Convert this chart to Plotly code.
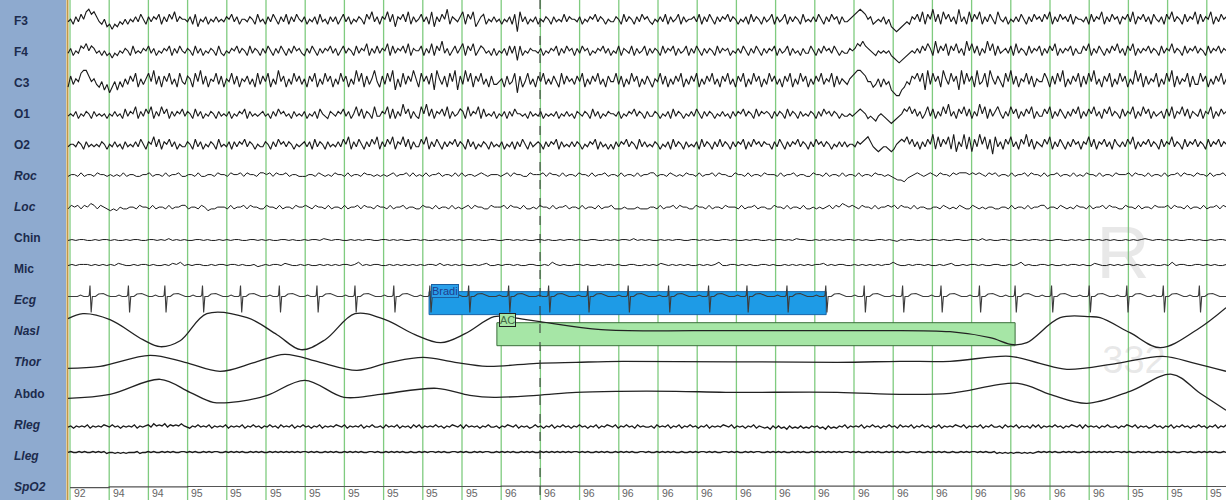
import plotly.graph_objects as go

# ---------------- data ----------------
channels = ["F3", "F4", "C3", "O1", "O2", "Roc", "Loc", "Chin", "Mic",
            "Ecg", "Nasl", "Thor", "Abdo", "Rleg", "Lleg", "SpO2"]
italic_channels = ["Roc", "Loc", "Ecg", "Nasl", "Thor", "Rleg", "Lleg", "SpO2"]

epoch_seconds = [0, 1, 2, 3, 4, 5, 6, 7, 8, 9, 10, 11, 12, 13, 14,
                 15, 16, 17, 18, 19, 20, 21, 22, 23, 24, 25, 26, 27, 28, 29]
spo2_values = [92, 94, 94, 95, 95, 95, 95, 95, 95, 95, 95,
               96, 96, 96, 96, 96, 96, 96, 96, 96, 96, 96, 96, 96, 96, 96, 96,
               95, 95, 95]

# scored events (seconds)
event_names = ["Bradi", "AC"]
event_start = [9.16, 10.89]
event_end = [19.29, 24.11]
event_channel = ["Ecg", "Nasl"]
cursor_time = 11.99

# EEG / EOG / EMG samples, one digit per sample (level 0-9, 4.5 = baseline)
f3_samples = ["453647589786435", "231324353546475", "364657364758465", "546372546354645",
              "465746355465374", "536475364736475", "463546374536463", "574635465375846",
              "365847265748364", "574638264759365", "468375824673546", "453546370846354",
              "635465364547465", "546354657465354", "465374653647564", "354647364573645",
              "564736475364657", "465354637465364", "573645736465374", "546475364756364",
              "456789875634546", "352101234365748", "375947385746394", "638475836475385",
              "463546475364756", "475836475647365", "546374658364756", "365748365746375",
              "463758465374658", "374658364756"]
f4_samples = ["463547685764535", "342435465374546", "574635465736475", "465374635465374",
              "354657465374653", "647536475364756", "436475364657463", "574653746583647",
              "465837465748365", "573648375946357", "468375835764536", "354637471735465",
              "546354657364756", "364756354657463", "547365473645736", "465374657364573",
              "647536465374656", "354647536475364", "657364573645364", "475364756475354",
              "465687976543545", "453210123454647", "586394758375846", "395847364958374",
              "564738465374657", "364758364657364", "475836475364758", "463758364657465",
              "374658465374657", "465374657465"]
c3_samples = ["374658997564352", "413525364758364", "685947375846385", "476385947365847",
              "365847365746384", "758364957364857", "463758364857364", "857364958374695",
              "374859263847596", "385748296473859", "274958375846374", "456374581735846",
              "375846475384756", "475836475846375", "584736485736475", "365847364758364",
              "758364758463758", "463758364857364", "857463758364857", "364758465837465",
              "467899875534636", "452100235476858", "294857396485729", "485739458396475",
              "385947365847365", "586374859364758", "374859463758364", "857364958374658",
              "364859374658374", "485736475846"]
o1_samples = ["454635465364545", "354645374658364", "758364857364657", "465374635465364",
              "546354657364545", "645364756453645", "463546375436546", "574635847365384",
              "465837364957364", "385947365748364", "576384658374546", "354636475545364",
              "546354546354645", "365465374635465", "546354657465364", "465354637465354",
              "647536465354645", "364657465374656", "536465374653645", "465364756465354",
              "454567653432454", "321234576857463", "584736485946375", "847364958374685",
              "364857364758364", "475836475364758", "364758463758465", "374658364857364",
              "563748365847365", "473658364756"]
o2_samples = ["455465364545465", "354645364546475", "365847365746354", "465374635465374",
              "546364657465354", "465364756465354", "564637465364546", "475836475364758",
              "364758365847364", "475836475364657", "465374635465364", "546354636475364",
              "565364657364546", "465354657364535", "364657465374645", "465354637465364",
              "546374653647465", "364657364756465", "536475364657465", "364756465354646",
              "455465678643234", "432356768574636", "475938475839264", "938274958371846",
              "375846375947365", "475836475364756", "365847365746375", "464758364657465",
              "374658465374657", "465374657465"]
roc_samples = ["455464554655", "454546455445", "564554645564", "455464455465", "546556465546",
               "656465564554", "445546545465", "546455465545", "454564556464", "546455645546",
               "464554565455", "545646554465", "556465546455", "465546455645", "546455464556",
               "645546545465", "546455646554", "465546455465", "554645564554", "465546455464",
               "554645546554", "543221345654", "565465546566", "656565465645", "546455646554",
               "645564554645", "465546455465", "556465546455", "464556465546", "554645564"]
loc_samples = ["465646576465", "434354455465", "546455464556", "645546534455", "546455646554",
               "465546455465", "565465546455", "464556465546", "554645564554", "465546455464",
               "545646554465", "556465546445", "465546455645", "546455464556", "444544454445",
               "546455646554", "465546455465", "554645564554", "465546455464", "454545646576",
               "565465546455", "656465546455", "445546545465", "446545455445", "546455464556",
               "645546545465", "546455646554", "465546455465", "556465546455", "464556465"]
chin_samples = ["4545544545", "5454454554", "4554546454", "5445545445", "4545544554",
                "5454455454", "4545546545", "5445454554", "4554545445", "5454454545",
                "4545545445", "5445545454", "4554544545", "5454455445", "4545546454",
                "5445454554", "4554545445", "5454454554", "4545545465", "5445454545",
                "4554545445", "5454354554", "4545545445", "5445546454", "4554544545",
                "5454455445", "4545545454", "5445454565", "4554545445", "5454454554"]
mic_samples = ["4545554545", "4546544545", "5454454657", "4545544545", "5455454453",
               "4545546544", "5454454545", "4554574545", "5445454545", "4545546454",
               "5454454564", "4545545445", "5445475454", "4554544545", "5454455445",
               "4546545454", "5445454574", "4554545445", "5454454545", "4545564545",
               "5445454545", "4557544545", "5454454564", "4545545445", "5445457454",
               "4554544545", "5454465445", "4545545454", "5445474554", "4554545445"]
rleg_samples = ["45354546354546", "54645354546354", "56475657465657", "54354645463545",
                "46354546354645", "35464536454635", "46453546354546", "54635454635464",
                "45364546354536", "46354546453546", "54636454535464", "45354654635453",
                "46453546354645", "35464535463546", "54635464536454", "45364546354635",
                "46453546354546", "54635453546354", "34253534253435", "34354534253435",
                "46354546354645", "35464536454635", "46453546354546", "54635454635464",
                "45364546354536", "46354546453546", "54636454535464", "45354654635453",
                "46453546354645", "35464535463546"]
lleg_samples = ["45445454454545", "34434343444534", "45454454545445", "54545445454554",
                "45454545445454", "54454545454545", "45545454454545", "44545454544554",
                "54454545454454", "45454554545445", "54545445454554", "45454545445454",
                "54454545454545", "45545454454545", "44545454544554", "54454545454454",
                "45454554545445", "54545445454554", "45454545445454", "54454545454545",
                "45545454454545", "44545454544554", "54454545454454", "45454554545445",
                "34343434434343", "45454545445454", "54454545454545", "45545454454545",
                "44545454544554", "54454545454454"]

# ECG: R-peak times (s) and one beat's shape (dt in s, amplitude)
ecg_r_peaks = [0.51, 1.49, 2.42, 3.38, 4.35, 5.34, 6.30, 7.27, 8.26, 9.18,
               10.17, 11.19, 12.21, 13.21, 14.24, 15.27, 16.29, 17.27, 18.29, 19.28,
               20.26, 21.24, 22.22, 23.20, 24.11, 25.04, 26.00, 26.96, 27.89, 28.81]
ecg_beat_dt = [-0.32, -0.24, -0.16, -0.05, -0.02, 0.00, 0.03, 0.06, 0.14, 0.22, 0.34, 0.44, 0.52]
ecg_beat_amp = [0, 1.5, 0, 0, 1, 11, -16, 0, 0, 2.5, 3, 1, 0]

# respiratory channels: key points (s, amplitude)
nasl_t = [-0.05, 0.33, 1.02, 1.86, 2.30, 2.81, 3.49, 4.52, 5.28, 5.89, 6.51, 7.27, 8.04,
          8.80, 9.46, 10.08, 10.82, 11.28, 11.99, 13.55, 16.07, 19.90, 22.45, 23.47, 24.06,
          24.41, 25.26, 26.02, 26.28, 27.04, 27.81, 28.75, 29.49]
nasl_amp = [13, 18, 12, -8, -15, -9, 18, 14, -3, -18, -8, 18, 12,
            -3, -11, -2, 15, 14, 10, 2, 1, 1, 0, -6, -13,
            -11, 14, 15, 14, -1, -16, 2, 24]
thor_t = [-0.05, 0.77, 2.04, 2.93, 3.83, 4.72, 5.48, 6.38, 7.32, 8.16, 9.01, 9.82, 10.64,
          11.91, 12.91, 14.11, 19.57, 21.17, 22.45, 23.98, 24.74, 25.43, 26.71, 27.88,
          28.70, 29.49]
thor_amp = [-6, -4, 7, 0, -9, 0, 8, 0, -8, 0, 5, 0, -4,
            -1, 0, 1, 0, 1, 1, 6, -1, -7, -1, 6,
            -1, -9]
abdo_t = [-0.05, 1.02, 2.30, 3.06, 3.65, 4.34, 5.03, 5.99, 6.99, 7.91, 9.36, 10.20, 10.82,
          11.91, 12.91, 14.01, 15.46, 16.73, 19.57, 21.17, 22.45, 24.18, 25.00, 25.94,
          27.04, 28.11, 28.83, 29.49]
abdo_amp = [-5, -1, 14, 1, -9, -8, -2, 13, -4, -1, 5, -2, -4,
            -2, 1, 2, 2, 1, 1, -1, 0, 10, -1, -10,
            2, 19, 0, -17]

# ---------------- layout constants (positions / styles) ----------------
PX_PER_S = 39.2
X_ORIGIN_PX = 70
X_MIN = -X_ORIGIN_PX / PX_PER_S
X_MAX = (1226 - X_ORIGIN_PX) / PX_PER_S
T_START, T_END = -0.05, 29.5


def t_px(px):
    return (px - X_ORIGIN_PX) / PX_PER_S


label_y = {name: 20.7 + 31.07 * i for i, name in enumerate(channels)}
trace_base = {"F3": 20.5, "F4": 52, "C3": 83, "O1": 115, "O2": 145.5, "Roc": 175.5,
              "Loc": 208, "Chin": 240, "Mic": 265, "Ecg": 296.5, "Nasl": 331.7,
              "Thor": 362.3, "Abdo": 393.3, "Rleg": 426.5, "Lleg": 452, "SpO2": 486.5}

sampled_channels = [("F3", f3_samples, 2.5), ("F4", f4_samples, 2.4), ("C3", c3_samples, 2.8),
                    ("O1", o1_samples, 2.4), ("O2", o2_samples, 2.5), ("Roc", roc_samples, 1.8),
                    ("Loc", loc_samples, 1.8), ("Chin", chin_samples, 0.9), ("Mic", mic_samples, 1.1),
                    ("Rleg", rleg_samples, 1.1), ("Lleg", lleg_samples, 0.95)]
trace_width = {"F3": 1.1, "F4": 1.1, "C3": 1.1, "O1": 1.1, "O2": 1.1, "Roc": 1.0, "Loc": 1.0,
               "Chin": 1.0, "Mic": 1.0, "Rleg": 1.3, "Lleg": 1.3}

TRACE_COLOR = "#1a1a1a"

fig = go.Figure()

# watermark (drawn first, under the traces)
fig.add_trace(go.Scatter(x=[t_px(1123), t_px(1134)], y=[259, 363], mode="text",
                         text=["R", "332"],
                         textfont=dict(size=[74, 38], color="rgba(150,150,150,0.22)",
                                       family="Arial, Liberation Sans, sans-serif"),
                         hoverinfo="skip"))

for name, chunks, gain in sampled_channels:
    s = "".join(chunks)
    n = len(s)
    ts = [T_START + j * (T_END - T_START) / (n - 1) for j in range(n)]
    ys = [trace_base[name] - (int(c) - 4.5) * gain for c in s]
    fig.add_trace(go.Scatter(x=ts, y=ys, mode="lines",
                             line=dict(color=TRACE_COLOR, width=trace_width[name]),
                             hoverinfo="skip"))

# ECG
ecg_x, ecg_y = [T_START], [trace_base["Ecg"]]
for r in ecg_r_peaks:
    for dt, a in zip(ecg_beat_dt, ecg_beat_amp):
        ecg_x.append(r + dt)
        ecg_y.append(trace_base["Ecg"] - a)
ecg_x.append(T_END)
ecg_y.append(trace_base["Ecg"])
fig.add_trace(go.Scatter(x=ecg_x, y=ecg_y, mode="lines",
                         line=dict(color="#3c3c3c", width=1.1), hoverinfo="skip"))

# respiratory
for name, ts, amps in [("Nasl", nasl_t, nasl_amp), ("Thor", thor_t, thor_amp), ("Abdo", abdo_t, abdo_amp)]:
    fig.add_trace(go.Scatter(x=ts, y=[trace_base[name] - a for a in amps], mode="lines",
                             line=dict(color="#222222", width=1.3, shape="spline", smoothing=1.0),
                             hoverinfo="skip"))

# SpO2 trace
fig.add_trace(go.Scatter(x=epoch_seconds + [X_MAX],
                         y=[trace_base["SpO2"] - (v - 95) * 0.4 for v in spo2_values + [spo2_values[-1]]],
                         mode="lines", line=dict(color="#555555", width=1.2, shape="hv"),
                         hoverinfo="skip"))

shapes = []
# label panel
shapes.append(dict(type="rect", xref="x", yref="y", x0=X_MIN, x1=t_px(66), y0=0, y1=500,
                   fillcolor="#8eaacf", line=dict(width=0), layer="below"))
shapes.append(dict(type="line", xref="x", yref="y", x0=t_px(67.5), x1=t_px(67.5), y0=0, y1=500,
                   line=dict(color="#c09a48", width=2), layer="below"))
# second grid lines
for s in epoch_seconds:
    shapes.append(dict(type="line", xref="x", yref="y", x0=s, x1=s, y0=0, y1=500,
                       line=dict(color="rgba(120,200,120,0.95)", width=1.3), layer="below"))
# events
event_fill = {"Bradi": "#1e9be6", "AC": "#a6e6a6"}
event_line = {"Bradi": "#1865a8", "AC": "#3c6e3c"}
for nm, t0, t1, ch in zip(event_names, event_start, event_end, event_channel):
    shapes.append(dict(type="rect", xref="x", yref="y", x0=t0, x1=t1,
                       y0=label_y[ch] - 8.7, y1=label_y[ch] + 14.3,
                       fillcolor=event_fill[nm], line=dict(color=event_line[nm], width=1),
                       layer="below"))
# cursor
shapes.append(dict(type="line", xref="x", yref="y", x0=cursor_time, x1=cursor_time, y0=0, y1=496,
                   line=dict(color="#333333", width=1, dash="dash"), layer="above"))

annotations = []
for name in channels:
    txt = "<b><i>%s</i></b>" % name if name in italic_channels else "<b>%s</b>" % name
    annotations.append(dict(x=t_px(12), y=label_y[name], xref="x", yref="y", text=txt,
                            showarrow=False, xanchor="left", yanchor="middle",
                            font=dict(size=12, color="#1c2b4d",
                                      family="Arial, Liberation Sans, sans-serif")))
for s, v in zip(epoch_seconds, spo2_values):
    annotations.append(dict(x=s + 0.04, y=493, xref="x", yref="y", text=str(v),
                            showarrow=False, xanchor="left", yanchor="middle",
                            font=dict(size=10.5, color="#666666",
                                      family="Arial, Liberation Sans, sans-serif")))
label_font = {"Bradi": "#1f3d8c", "AC": "#456b45"}
label_bg = {"Bradi": "#2aa0ea", "AC": "#a6e6a6"}
label_border = {"Bradi": "#1c5fa0", "AC": "#222222"}
label_dy = {"Bradi": -9.5, "AC": -11}
for nm, t0, ch in zip(event_names, event_start, event_channel):
    annotations.append(dict(x=t0 + 0.05, y=label_y[ch] + label_dy[nm], xref="x", yref="y",
                            text=nm, showarrow=False, xanchor="left", yanchor="middle",
                            font=dict(size=11, color=label_font[nm],
                                      family="Arial, Liberation Sans, sans-serif"),
                            bgcolor=label_bg[nm], bordercolor=label_border[nm],
                            borderwidth=1, borderpad=0))

fig.update_layout(width=1226, height=500, margin=dict(l=0, r=0, t=0, b=0),
                  paper_bgcolor="white", plot_bgcolor="white", showlegend=False,
                  xaxis=dict(range=[X_MIN, X_MAX], visible=False, fixedrange=True),
                  yaxis=dict(range=[500, 0], visible=False, fixedrange=True),
                  shapes=shapes, annotations=annotations)

fig.write_html("out.html", include_plotlyjs=True,
               config={"displayModeBar": False, "staticPlot": True},
               post_script="document.body.style.margin='0px';document.body.style.overflow='hidden';")
